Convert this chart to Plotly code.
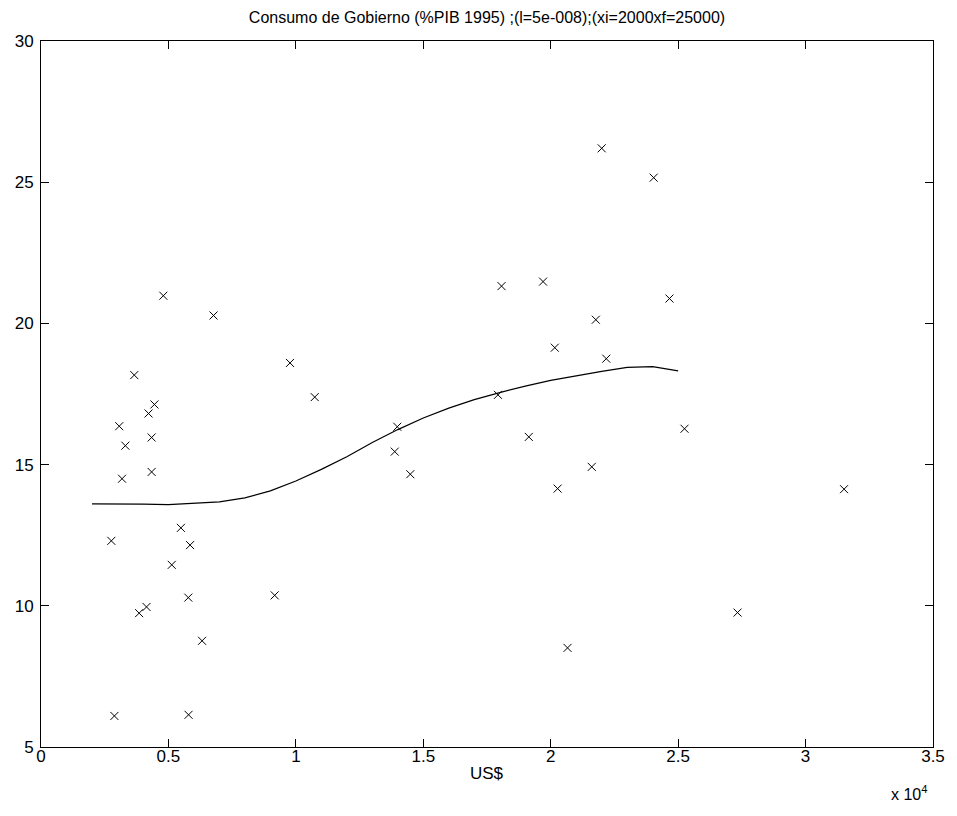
import plotly.graph_objects as go

# Observed countries: GDP per capita (US$) vs government consumption (% of GDP, 1995)
gdp_pc = [2760, 2880, 3070, 3180, 3310, 3660, 3850, 4140, 4220, 4340, 4340, 4450,
          4800, 5130, 5490, 5780, 5790, 5850, 6320, 6770, 9170, 9770, 10740,
          13880, 13980, 14490, 17930, 18070, 19140, 19700, 20160, 20270, 20660,
          21610, 21770, 22000, 22180, 24040, 24660, 25250, 27330, 31510]
gov_cons = [12.30, 6.10, 16.36, 14.50, 15.67, 18.17, 9.74, 9.96, 16.81, 15.96, 14.74, 17.13,
            20.98, 11.45, 12.76, 10.29, 6.14, 12.15, 8.76, 20.28, 10.37, 18.60, 17.39,
            15.46, 16.34, 14.66, 17.47, 21.32, 15.98, 21.48, 19.14, 14.15, 8.51,
            14.92, 20.13, 26.20, 18.75, 25.16, 20.88, 16.27, 9.76, 14.13]

# Kernel regression estimate evaluated from xi=2000 to xf=25000
grid_x = [2000, 3000, 4000, 5000, 6000, 7000, 8000, 9000, 10000, 11000, 12000, 13000,
          14000, 15000, 16000, 17000, 18000, 19000, 20000, 21000, 22000, 23000, 24000, 25000]
grid_y = [13.61, 13.61, 13.60, 13.58, 13.62, 13.68, 13.82, 14.07, 14.42, 14.83, 15.28, 15.78,
          16.24, 16.65, 17.00, 17.30, 17.55, 17.78, 17.98, 18.15, 18.30, 18.44, 18.47, 18.32]

x_ticks = [0, 5000, 10000, 15000, 20000, 25000, 30000, 35000]
x_tick_text = ["0", "0.5", "1", "1.5", "2", "2.5", "3", "3.5"]
y_ticks = [5, 10, 15, 20, 25, 30]

FONT = "Liberation Sans Narrow, Arial Narrow, Liberation Sans, Arial, sans-serif"

fig = go.Figure()
fig.add_trace(go.Scatter(
    x=gdp_pc, y=gov_cons, mode="markers",
    marker=dict(symbol="x-thin", size=8, color="black",
                line=dict(width=1, color="black")),
    showlegend=False, hoverinfo="x+y",
))
fig.add_trace(go.Scatter(
    x=grid_x, y=grid_y, mode="lines",
    line=dict(color="black", width=1.2),
    showlegend=False,
))

axis_common = dict(
    showgrid=False, zeroline=False, showline=True, linecolor="black", linewidth=1,
    mirror="ticks", ticks="inside", ticklen=8, tickcolor="black", tickwidth=1,
    tickfont=dict(family=FONT, size=17, color="black"),
)

fig.update_layout(
    width=957, height=816,
    paper_bgcolor="white", plot_bgcolor="white",
    margin=dict(l=41, r=21, t=41, b=69),
    font=dict(family=FONT, color="black"),
    title=dict(
        text="Consumo de Gobierno (%PIB 1995) ;(l=5e-008);(xi=2000xf=25000)",
        x=0.5, xanchor="center", xref="paper", y=1 - 17 / 816, yanchor="middle",
        font=dict(family=FONT, size=16, color="black"),
    ),
    xaxis=dict(range=[0, 35000], tickvals=x_ticks, ticktext=x_tick_text,
               ticklabelstandoff=-6, **axis_common),
    yaxis=dict(range=[5, 30], tickvals=y_ticks, ticklabelstandoff=3,
               **axis_common),
    annotations=[
        dict(text="US$", xref="paper", yref="paper",
             x=0.5, y=-26 / 706, xanchor="center", yanchor="middle", showarrow=False,
             font=dict(family=FONT, size=17, color="black")),
        dict(text="x 10<sup>4</sup>", xref="paper", yref="paper",
             x=(932 - 41) / 895.5, y=-34 / 706, xanchor="right", yanchor="top",
             showarrow=False, font=dict(family=FONT, size=16, color="black")),
    ],
)

fig.write_html("out.html")
